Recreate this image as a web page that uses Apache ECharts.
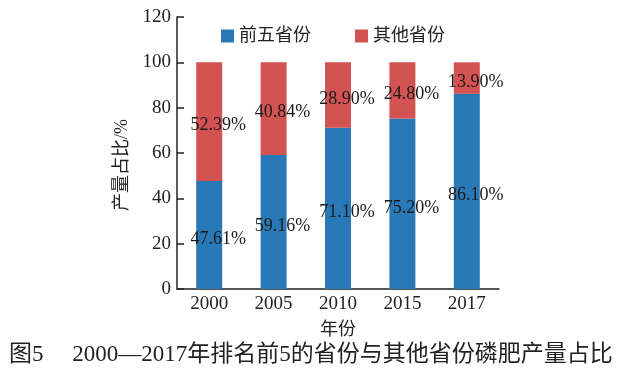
<!DOCTYPE html>
<html><head><meta charset="utf-8">
<script src="https://cdn.jsdelivr.net/npm/echarts@6/dist/echarts.min.js"></script>
<style>html,body{margin:0;padding:0;background:#fff}#c{width:639px;height:373px}</style>
</head><body><div id="c"></div>
<script>
const categories = ['2000','2005','2010','2015','2017'];
const topFive = [47.61, 59.16, 71.10, 75.20, 86.10];
const others = [52.39, 40.84, 28.90, 24.80, 13.90];
const seriesNames = ['前五省份','其他省份'];
const yTicks = {min:0, max:120, interval:20};
const captionText = '图5\u3000 2000—2017年排名前5的省份与其他省份磷肥产量占比';

const FONT = '"Liberation Serif","Noto Sans CJK SC",serif';
const chart = echarts.init(document.getElementById('c'));
const lbl = {show:true, position:'inside', offset:[9,4], color:'#1a1a1a', fontFamily:FONT, fontSize:18,
  formatter: p => p.value.toFixed(2) + '%'};
chart.setOption({
  animation:false,
  textStyle:{fontFamily:FONT},
  grid:{left:177, right:140, top:17, bottom:84},
  legend:{left:216, top:22, itemWidth:13, itemHeight:13, itemGap:44, icon:'rect',
    textStyle:{fontFamily:FONT, fontSize:18, color:'#222'},
    data:seriesNames},
  title:{text:captionText, left:4, top:338,
    textStyle:{fontFamily:FONT, fontSize:23, fontWeight:'normal', color:'#222'}},
  xAxis:{type:'category', data:categories, name:'年份', nameLocation:'middle', nameGap:32,
    nameTextStyle:{fontFamily:FONT, fontSize:18, color:'#222'},
    axisLine:{lineStyle:{color:'#222', width:1.5}},
    axisTick:{inside:true, length:7, lineStyle:{color:'#222', width:1.5}},
    axisLabel:{fontFamily:FONT, fontSize:19, color:'#222', margin:6}},
  yAxis:{type:'value', min:yTicks.min, max:yTicks.max, interval:yTicks.interval,
    name:'产量占比/%', nameLocation:'middle', nameGap:42,
    nameTextStyle:{fontFamily:FONT, fontSize:18, color:'#222', padding:[0,24,0,0]},
    splitLine:{show:false},
    axisLine:{show:true, lineStyle:{color:'#222', width:1.5}},
    axisTick:{show:true, inside:true, length:7, lineStyle:{color:'#222', width:1.5}},
    axisLabel:{fontFamily:FONT, fontSize:19, color:'#222', margin:6}},
  series:[
    {name:seriesNames[0], type:'bar', stack:'a', data:topFive, barWidth:26,
      itemStyle:{color:'#2a79b7'}, label:lbl},
    {name:seriesNames[1], type:'bar', stack:'a', data:others, barWidth:26,
      itemStyle:{color:'#d25352'}, label:lbl}
  ]
});
</script></body></html>
